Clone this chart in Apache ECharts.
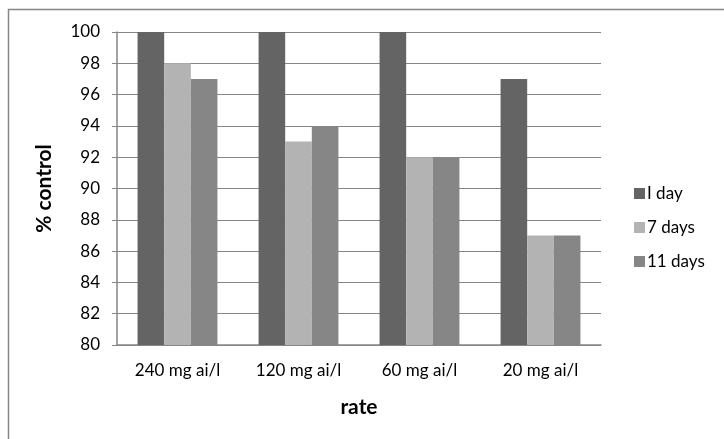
<!DOCTYPE html>
<html><head><meta charset="utf-8">
<script src="https://cdn.jsdelivr.net/npm/echarts@6/dist/echarts.min.js"></script>
<style>html,body{margin:0;padding:0;background:#fff}#c{width:724px;height:439px}</style>
</head><body><div id="c"></div>
<script>
const categories = ['240 mg ai/l', '120 mg ai/l', '60 mg ai/l', '20 mg ai/l'];
const seriesNames = ['I day', '7 days', '11 days'];
const day1 = [100, 100, 100, 97];
const days7 = [98, 93, 92, 87];
const days11 = [97, 94, 92, 87];
const yTicks = { min: 80, max: 100, interval: 2 };
const colors = ['#646464', '#b3b3b3', '#868686'];
const font = 'Lato, "Open Sans", sans-serif';

const chart = echarts.init(document.getElementById('c'));
const vals = [day1, days7, days11];
chart.setOption({
  animation: false,
  backgroundColor: '#fff',
  graphic: [{ type: 'rect', shape: { x: 8.5, y: 9.5, width: 800, height: 500 }, style: { fill: 'none', stroke: '#868686', lineWidth: 1.5 }, silent: true }],
  grid: { left: 117, right: 123, top: 32, bottom: 94 },
  legend: {
    orient: 'vertical', left: 629, top: 180, itemWidth: 11, itemHeight: 11, itemGap: 17,
    icon: 'rect',
    textStyle: { fontFamily: font, fontSize: 17, color: '#000', padding: [0,0,0,-3] },
    data: seriesNames
  },
  xAxis: {
    type: 'category', data: categories,
    name: 'rate', nameLocation: 'middle', nameGap: 52,
    nameTextStyle: { fontFamily: font, fontSize: 21, fontWeight: 'bold', color: '#000' },
    axisLine: { lineStyle: { color: '#868686', width: 1.5 } },
    axisTick: { show: false },
    axisLabel: { fontFamily: font, fontSize: 17, color: '#000', margin: 17 }
  },
  yAxis: {
    type: 'value', min: yTicks.min, max: yTicks.max, interval: yTicks.interval,
    name: '% control', nameLocation: 'middle', nameGap: 62,
    nameTextStyle: { fontFamily: font, fontSize: 21, fontWeight: 'bold', color: '#000' },
    axisLine: { show: true, lineStyle: { color: '#868686', width: 1.5 } },
    axisTick: { show: true, length: 5, lineStyle: { color: '#868686' } },
    splitLine: { lineStyle: { color: '#868686', width: 1 } },
    axisLabel: { fontFamily: font, fontSize: 17, color: '#000', margin: 17 }
  },
  series: seriesNames.map((n, i) => ({
    name: n, type: 'bar', data: vals[i], barGap: '0%', barCategoryGap: '34%',
    itemStyle: { color: colors[i] }
  }))
});
</script></body></html>
